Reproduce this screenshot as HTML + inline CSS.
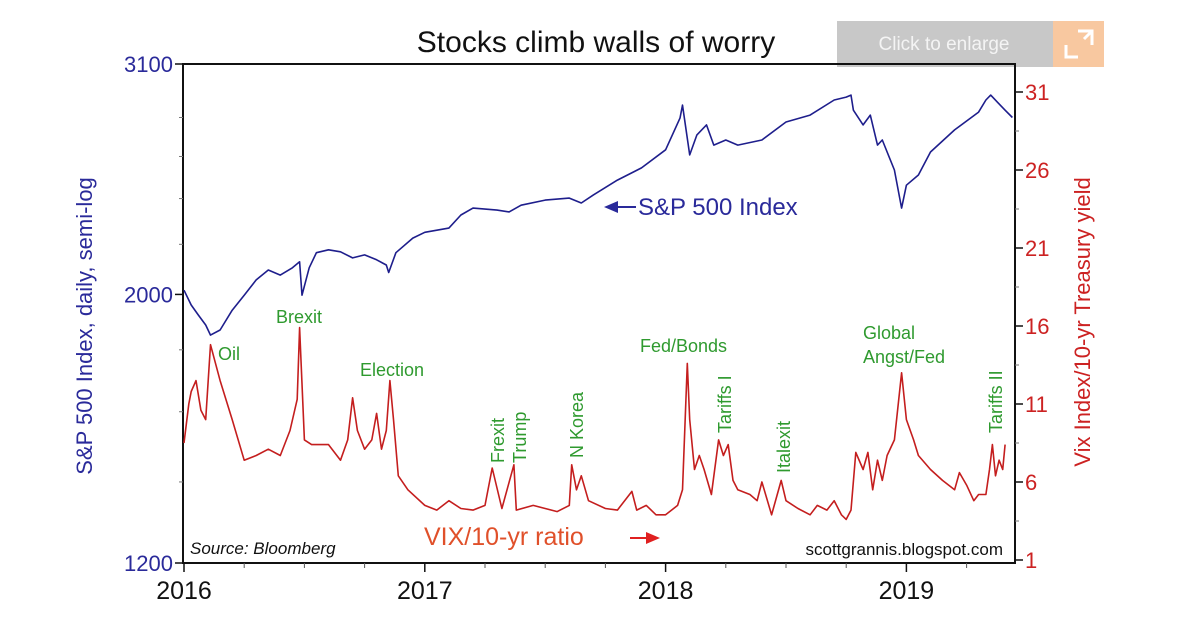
<!DOCTYPE html>
<html><head><meta charset="utf-8">
<style>
body{margin:0;background:#fff;width:1200px;height:632px;overflow:hidden;font-family:"Liberation Sans",sans-serif}
svg{display:block}
</style></head><body>
<svg id="chart" width="1200" height="632" viewBox="0 0 1200 632" xmlns="http://www.w3.org/2000/svg">
<text x="596" y="52" font-size="30" text-anchor="middle" fill="#111">Stocks climb walls of worry</text>
<g>
<rect x="837" y="21" width="216" height="46" fill="#c8c8c8"/>
<text x="944" y="50" font-size="19" fill="#f4f4f4" text-anchor="middle">Click to enlarge</text>
<rect x="1053" y="21" width="51" height="46" fill="#f8c8a0"/>
<path d="M1078 31h14v14M1078 57h-12v-12M1092 31l-8 8" stroke="#fff" stroke-width="3" fill="none"/>
</g>
<g id="axes"></g>
<g id="series"></g>
<text transform="translate(92,326) rotate(-90)" font-size="22" fill="#2a2a9a" text-anchor="middle">S&amp;P 500 Index, daily, semi-log</text>
<text transform="translate(1090,322) rotate(-90)" font-size="22" fill="#cc2222" text-anchor="middle">Vix Index/10-yr Treasury yield</text>
<g>
<path d="M604 207l14-6v12z" fill="#2a2a9a"/><line x1="614" y1="207" x2="636" y2="207" stroke="#2a2a9a" stroke-width="2"/>
<text x="638" y="215" font-size="24" fill="#2a2a9a">S&amp;P 500 Index</text>
</g>
<g>
<text x="424" y="545" font-size="25" fill="#e0502a">VIX/10-yr ratio</text>
<line x1="630" y1="538" x2="650" y2="538" stroke="#e02020" stroke-width="2"/><path d="M660 538l-14-6v12z" fill="#e02020"/>
</g>
<text x="190" y="554" font-size="17" font-style="italic" fill="#111">Source: Bloomberg</text>
<text x="1003" y="555" font-size="17" fill="#111" text-anchor="end">scottgrannis.blogspot.com</text>
<g fill="#2f9a2f" font-size="18">
<text x="218" y="360">Oil</text>
<text x="276" y="323">Brexit</text>
<text x="360" y="376">Election</text>
<text x="640" y="352">Fed/Bonds</text>
<text x="863" y="339">Global</text>
<text x="863" y="363">Angst/Fed</text>
<text transform="translate(504,463) rotate(-90)">Frexit</text>
<text transform="translate(526,463) rotate(-90)">Trump</text>
<text transform="translate(583,458) rotate(-90)">N Korea</text>
<text transform="translate(731,433) rotate(-90)">Tariffs I</text>
<text transform="translate(790,473) rotate(-90)">Italexit</text>
<text transform="translate(1002,433) rotate(-90)">Tariffs II</text>
</g>
</svg>
<script>
const spDates=[2016.00,2016.03,2016.06,2016.09,2016.11,2016.15,2016.20,2016.25,2016.30,2016.35,2016.40,2016.45,2016.48,2016.49,2016.52,2016.55,2016.60,2016.65,2016.70,2016.75,2016.80,2016.84,2016.85,2016.88,2016.95,2017.00,2017.10,2017.15,2017.20,2017.30,2017.35,2017.40,2017.50,2017.60,2017.65,2017.70,2017.80,2017.90,2018.00,2018.06,2018.07,2018.10,2018.13,2018.17,2018.20,2018.25,2018.30,2018.40,2018.50,2018.60,2018.70,2018.75,2018.77,2018.78,2018.82,2018.85,2018.88,2018.90,2018.95,2018.98,2019.00,2019.05,2019.10,2019.20,2019.30,2019.33,2019.35,2019.38,2019.41,2019.44];
const spValues=[2016,1960,1923,1887,1851,1869,1941,1997,2056,2095,2075,2104,2128,1997,2104,2165,2177,2169,2144,2156,2136,2115,2085,2165,2226,2251,2269,2326,2357,2348,2340,2370,2393,2402,2380,2417,2486,2544,2633,2797,2867,2608,2709,2761,2657,2683,2657,2683,2776,2813,2895,2911,2922,2839,2761,2813,2657,2683,2534,2357,2462,2510,2622,2735,2829,2895,2922,2880,2839,2800];
const vixDates=[2016.00,2016.02,2016.03,2016.05,2016.07,2016.09,2016.11,2016.15,2016.20,2016.25,2016.30,2016.35,2016.40,2016.44,2016.47,2016.48,2016.50,2016.53,2016.60,2016.65,2016.68,2016.70,2016.72,2016.75,2016.78,2016.80,2016.82,2016.84,2016.855,2016.87,2016.89,2016.93,2017.00,2017.05,2017.10,2017.15,2017.20,2017.25,2017.28,2017.32,2017.37,2017.38,2017.45,2017.50,2017.55,2017.60,2017.61,2017.63,2017.65,2017.68,2017.75,2017.80,2017.86,2017.88,2017.92,2017.96,2018.00,2018.05,2018.07,2018.09,2018.10,2018.12,2018.14,2018.16,2018.19,2018.22,2018.24,2018.26,2018.28,2018.30,2018.35,2018.38,2018.40,2018.44,2018.48,2018.50,2018.55,2018.60,2018.63,2018.67,2018.70,2018.73,2018.75,2018.77,2018.79,2018.82,2018.84,2018.86,2018.88,2018.90,2018.92,2018.95,2018.98,2019.00,2019.03,2019.05,2019.10,2019.15,2019.20,2019.22,2019.25,2019.28,2019.30,2019.33,2019.345,2019.357,2019.37,2019.385,2019.40,2019.41];
const vixValues=[8.5,11.0,11.8,12.5,10.6,10.0,14.8,12.5,10.0,7.4,7.7,8.1,7.7,9.3,11.3,15.9,8.7,8.4,8.4,7.4,8.7,11.4,9.3,8.1,8.7,10.4,8.1,9.3,12.5,10.0,6.4,5.5,4.5,4.2,4.8,4.3,4.2,4.5,6.9,4.3,7.1,4.2,4.5,4.3,4.1,4.5,7.1,5.5,6.4,4.8,4.3,4.2,5.4,4.2,4.5,3.9,3.9,4.5,5.5,13.6,10.0,6.8,7.7,6.8,5.2,8.7,7.7,8.4,6.1,5.5,5.2,4.8,6.0,3.9,6.1,4.8,4.3,3.9,4.5,4.2,4.8,3.9,3.6,4.2,7.9,6.8,7.9,5.5,7.4,6.1,7.7,8.7,13.0,10.0,8.7,7.7,6.8,6.1,5.5,6.6,5.8,4.8,5.2,5.2,6.8,8.4,6.4,7.4,6.8,8.4];
const leftTicks=[3100,2000,1200];
const rightTicks=[31,26,21,16,11,6,1];
const yearTicks=[2016,2017,2018,2019];

const NS='http://www.w3.org/2000/svg';
const L=183,R=1015,T=64,B=563;
const xS=d=>184+(d-2016)*240.8;
const yL=v=>B-(Math.log10(v)-Math.log10(1200))/(Math.log10(3100)-Math.log10(1200))*(B-T);
const yR=v=>560-(v-1)*15.6;
function mk(tag,attrs,parent){const e=document.createElementNS(NS,tag);for(const k in attrs)e.setAttribute(k,attrs[k]);parent.appendChild(e);return e;}
const ax=document.getElementById('axes'),se=document.getElementById('series');
let fr=mk('path',{d:`M${L} ${T}H${R}V${B}H${L}Z`,fill:'none',stroke:'#111','stroke-width':2},ax);


leftTicks.forEach(v=>{const y=yL(v);
 let t=mk('line',{x1:L-8,x2:L,y1:y,y2:y,stroke:'#111','stroke-width':1.5},ax);
 
 
 let tx=mk('text',{x:L-10,y:y+8,'font-size':22,fill:'#2a2a9a','text-anchor':'end'},ax);tx.textContent=v;
 
 });
[1400,1600,1800,2200,2400,2600,2800].forEach(v=>{const y=yL(v);mk('line',{x1:L-4,x2:L,y1:y,y2:y,stroke:'#777'},ax);});
rightTicks.forEach(v=>{const y=yR(v);
 let t=mk('line',{x1:R,x2:R+8,y1:y,y2:y,stroke:'#111','stroke-width':1.5},ax);
 
 
 let tx=mk('text',{x:R+10,y:y+8,'font-size':22,fill:'#cc2222'},ax);tx.textContent=v;
 
 });
for(let v=3.5;v<32;v+=2.5){if((v-1)%5){const y=yR(v);if(y>T)mk('line',{x1:R,x2:R+4,y1:y,y2:y,stroke:'#777'},ax);}}
yearTicks.forEach(d=>{const x=xS(d);
 let t=mk('line',{x1:x,x2:x,y1:B,y2:B+9,stroke:'#111','stroke-width':1.5},ax);
 
 
 let tx=mk('text',{x:x,y:B+36,'font-size':25,fill:'#111','text-anchor':'middle'},ax);tx.textContent=d;
 
 
 [0.25,0.5,0.75].forEach(q=>{const xq=xS(d+q);if(xq<R)mk('line',{x1:xq,x2:xq,y1:B,y2:B+5,stroke:'#555'},ax);});});
let sp=mk('path',{d:spDates.map((d,i)=>(i?'L':'M')+xS(d).toFixed(1)+' '+yL(spValues[i]).toFixed(1)).join(''),fill:'none',stroke:'#1e1e8c','stroke-width':1.6,'stroke-linejoin':'round'},se);


let vx=mk('path',{d:vixDates.map((d,i)=>(i?'L':'M')+xS(d).toFixed(1)+' '+yR(vixValues[i]).toFixed(1)).join(''),fill:'none',stroke:'#c41e1e','stroke-width':1.6,'stroke-linejoin':'round'},se);


</script>
</body></html>
